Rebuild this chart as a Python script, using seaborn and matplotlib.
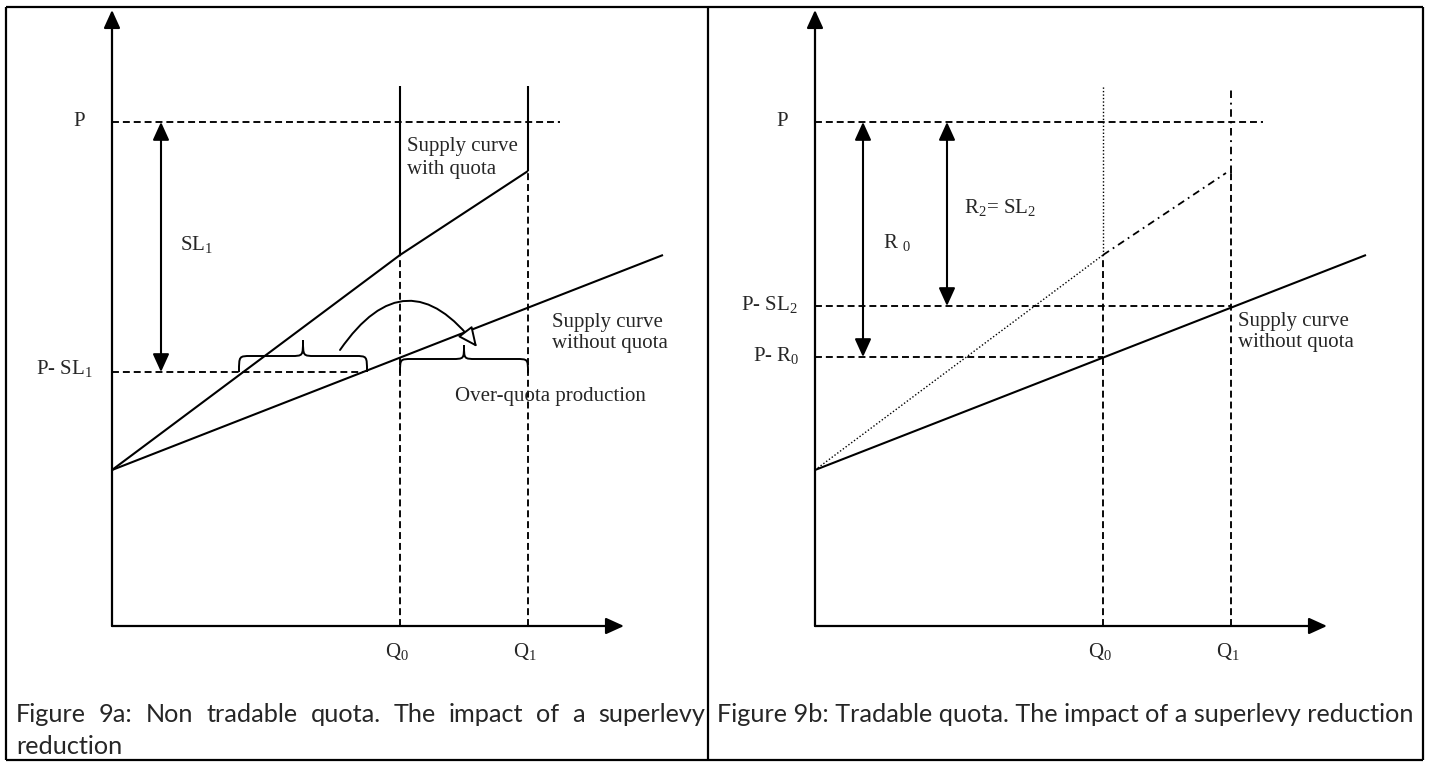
import matplotlib
matplotlib.use("Agg")
import matplotlib.pyplot as plt
import seaborn as sns
from matplotlib import font_manager
from matplotlib.patches import FancyArrowPatch, PathPatch
from matplotlib.path import Path

q_points = [288, 416]              # Q0, Q1
q_labels = ["Q$_\\mathregular{0}$", "Q$_\\mathregular{1}$"]
price_p = 504
price_sl1 = 254                    # P - SL1 (fig 9a)
price_sl2 = 320                    # P - SL2 (fig 9b)
price_r0 = 269                     # P - R0  (fig 9b)
supply_x = [0, 551]                # supply curve without quota
supply_y = [156, 371]
quota_x = [0, 288, 416]            # supply curve with quota (9a)
quota_y = [156, 371, 455]
trade_x = [0, 288, 411]            # 9b: dotted up to Q0, dash-dot after
trade_y = [156, 371, 453]

cap_a = ["Figure 9a: Non tradable quota. The impact of a superlevy", "reduction"]
cap_b = "Figure 9b: Tradable quota. The impact of a superlevy reduction"

W, H, DPI = 1431, 762, 100
ORIGIN_Y = 626

sns.set_theme(style="white")
plt.rcParams["font.family"] = ["Liberation Serif", "DejaVu Serif"]
plt.rcParams["mathtext.fontset"] = "custom"
plt.rcParams["mathtext.rm"] = "Liberation Serif"
plt.rcParams["lines.solid_capstyle"] = "butt"

names = {f.name for f in font_manager.fontManager.ttflist}
cap_font = "Liberation Sans Narrow" if "Liberation Sans Narrow" in names else "Lato"

DASH = (0, (3.7, 2.1))
DASHDOT = (0, (4, 2.5, 1, 2.5))
DOT = (0, (1, 1.5))
FS = 15
LW_DASH = 1.35
LW_SOLID = 1.5

fig = plt.figure(figsize=(W / DPI, H / DPI), dpi=DPI)
fig.patch.set_facecolor("white")

frame = fig.add_axes([0, 0, 1, 1])
frame.set_xlim(0, W)
frame.set_ylim(H, 0)
frame.axis("off")
for x in [6, 708, 1423]:
    frame.plot([x, x], [7, 760], color="black", lw=1.6)
for y in [7, 760]:
    frame.plot([6, 1423], [y, y], color="black", lw=1.6)


def panel_axes(ox):
    ax = fig.add_axes([0, 0, 1, 1])
    ax.set_xlim(-ox, W - ox)
    ax.set_ylim(ORIGIN_Y - H, ORIGIN_Y)
    ax.axis("off")
    ax.patch.set_alpha(0)
    return ax


def arrow(ax, p0, p1, style="-|>", lw=LW_SOLID, fc="black"):
    a = FancyArrowPatch(p0, p1, arrowstyle=f"{style},head_length=11,head_width=5",
                        mutation_scale=1, lw=lw, ec="black", fc=fc,
                        shrinkA=0, shrinkB=0, zorder=4)
    ax.add_patch(a)


def seg(ax, xs, ys, ls="-", lw=LW_DASH):
    ax.plot(xs, ys, color="black", lw=lw, linestyle=ls, zorder=2)


def brace(ax, x0, x1, yb, h, r=12):
    xm = (x0 + x1) / 2
    ym = yb + h / 2
    verts = [(x0, yb), (x0, ym), (x0, ym), (x0 + r, ym),
             (xm - r, ym),
             (xm, ym), (xm, ym), (xm, yb + h),
             (xm, ym), (xm, ym), (xm + r, ym),
             (x1 - r, ym),
             (x1, ym), (x1, ym), (x1, yb)]
    C, L = Path.CURVE4, Path.LINETO
    codes = [Path.MOVETO, C, C, C, L, C, C, C, C, C, C, L, C, C, C]
    ax.add_patch(PathPatch(Path(verts, codes), fc="none", ec="black", lw=1.4, zorder=3))


def draw_frame(ax):
    arrow(ax, (0, 0), (0, 616), lw=1.6)
    arrow(ax, (0, 0), (512, 0), lw=1.6)
    for q, lab in zip(q_points, q_labels):
        ax.text(q - 3, -26, lab, fontsize=FS, ha="center", va="center")
    ax.text(-33, price_p, "P", fontsize=FS, ha="center", va="center")


q0, q1 = q_points
slope = (supply_y[1] - supply_y[0]) / (supply_x[1] - supply_x[0])

# ---- Figure 9a
ax = panel_axes(112)
draw_frame(ax)
seg(ax, [0, 448], [price_p, price_p], DASH)
x_sl1 = (price_sl1 - supply_y[0]) / slope
seg(ax, [0, x_sl1], [price_sl1, price_sl1], DASH)
seg(ax, [q0, q0], [0, quota_y[1]], DASH)
seg(ax, [q0, q0], [quota_y[1], 540], "-", LW_SOLID)
seg(ax, [q1, q1], [0, quota_y[2]], DASH)
seg(ax, [q1, q1], [quota_y[2], 540], "-", LW_SOLID)
sns.lineplot(x=quota_x, y=quota_y, ax=ax, color="black", lw=LW_SOLID)
sns.lineplot(x=supply_x, y=supply_y, ax=ax, color="black", lw=LW_SOLID)
arrow(ax, (49, price_sl1), (49, price_p), style="<|-|>")
ax.text(68, 381, "SL$_\\mathregular{1}$", fontsize=FS, va="center")
ax.text(-19, price_sl1 + 3, "P- SL$_\\mathregular{1}$", fontsize=FS, ha="right", va="center")
ax.text(295, 468, "Supply curve\nwith quota", fontsize=FS, va="center", linespacing=1.3)
ax.text(440, 293, "Supply curve\nwithout quota", fontsize=FS, va="center", linespacing=1.18)
ax.text(343, 230, "Over-quota production", fontsize=FS, va="center")
brace(ax, 127, 255, price_sl1, 32)
brace(ax, q0, q1, price_sl1 - 1, 28)
ax.add_patch(FancyArrowPatch((228, 276), (365, 279),
                             arrowstyle="-|>,head_length=12,head_width=5.5",
                             connectionstyle="arc3,rad=-0.69", mutation_scale=1,
                             lw=1.4, ec="black", fc="white", shrinkA=0, shrinkB=0, zorder=4))

# ---- Figure 9b
ax = panel_axes(815)
draw_frame(ax)
seg(ax, [0, 448], [price_p, price_p], DASH)
seg(ax, [0, q1], [price_sl2, price_sl2], DASH)
seg(ax, [0, q0], [price_r0, price_r0], DASH)
seg(ax, [q0, q0], [0, trade_y[1]], DASH)
seg(ax, [q0, q0], [trade_y[1], 541], DOT, 1.0)
seg(ax, [q1, q1], [0, trade_y[2]], DASH)
seg(ax, [q1, q1], [trade_y[2], 537], DASHDOT)
sns.lineplot(x=trade_x[:2], y=trade_y[:2], ax=ax, color="black", lw=1.0, linestyle=DOT)
sns.lineplot(x=trade_x[1:], y=trade_y[1:], ax=ax, color="black", lw=1.3, linestyle=DASHDOT)
sns.lineplot(x=supply_x, y=supply_y, ax=ax, color="black", lw=LW_SOLID)
arrow(ax, (48, price_r0), (48, price_p), style="<|-|>")
arrow(ax, (132, price_sl2), (132, price_p), style="<|-|>")
ax.text(68, 383, "R $_\\mathregular{0}$", fontsize=FS, va="center")
ax.text(149, 418, "R$_\\mathregular{2}$= SL$_\\mathregular{2}$", fontsize=FS, va="center")
ax.text(-17, price_sl2 + 1, "P- SL$_\\mathregular{2}$", fontsize=FS, ha="right", va="center")
ax.text(-15, price_r0 + 1, "P- R$_\\mathregular{0}$", fontsize=FS, ha="right", va="center")
ax.text(423, 294, "Supply curve\nwithout quota", fontsize=FS, va="center", linespacing=1.18)

# ---- captions (word-justified first line on the left, as in the document)
renderer = fig.canvas.get_renderer()
probe = frame.text(0, 0, cap_b, fontsize=20, family=cap_font)
cap_size = 20 * 700 / probe.get_window_extent(renderer).width
probe.remove()

frame.text(717, 714, cap_b, fontsize=cap_size, family=cap_font, va="center")

words = cap_a[0].split()
widths = []
for wd in words:
    t = frame.text(0, 0, wd, fontsize=cap_size, family=cap_font)
    widths.append(t.get_window_extent(renderer).width)
    t.remove()
gap = (705 - 16 - sum(widths)) / (len(words) - 1)
x = 16
for wd, wdt in zip(words, widths):
    frame.text(x, 714, wd, fontsize=cap_size, family=cap_font, va="center")
    x += wdt + gap
frame.text(16, 746, cap_a[1], fontsize=cap_size, family=cap_font, va="center")

fig.savefig("out.png", dpi=DPI, facecolor="white")
